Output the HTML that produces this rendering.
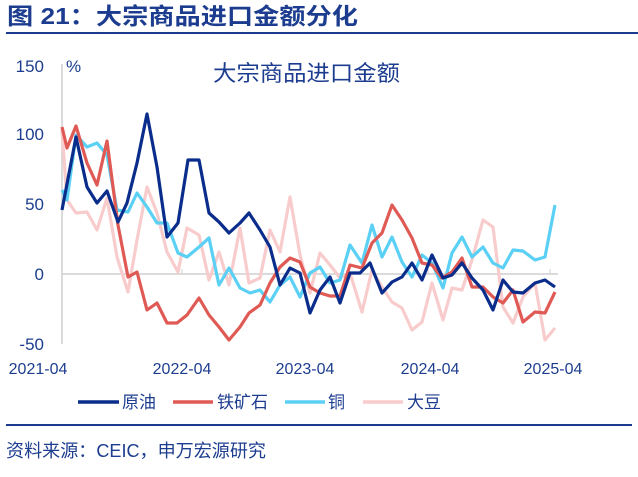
<!DOCTYPE html>
<html><head><meta charset="utf-8"><style>
body{margin:0;background:#fff;width:638px;height:472px;overflow:hidden;font-family:"Liberation Sans","Noto Sans CJK SC",sans-serif}
</style></head><body>
<svg width="638" height="472" xmlns="http://www.w3.org/2000/svg" font-family="Liberation Sans, Noto Sans CJK SC, sans-serif">
<text x="7" y="24" font-size="23" font-weight="bold" fill="#1c3d8f" textLength="351" lengthAdjust="spacingAndGlyphs">图 21：大宗商品进口金额分化</text>
<line x1="6" y1="33" x2="638" y2="33" stroke="#1c3d8f" stroke-width="2"/>
<line x1="62" y1="64" x2="62" y2="344" stroke="#cfcfcf" stroke-width="1.5"/>
<line x1="62" y1="274" x2="558" y2="274" stroke="#cfcfcf" stroke-width="1.5"/>
<line x1="182" y1="274" x2="182" y2="269" stroke="#cfcfcf"/>
<line x1="305" y1="274" x2="305" y2="269" stroke="#cfcfcf"/>
<line x1="428" y1="274" x2="428" y2="269" stroke="#cfcfcf"/>
<line x1="550" y1="274" x2="550" y2="269" stroke="#cfcfcf"/>
<g font-size="17" fill="#1c3d8f" text-anchor="end">
<text x="44" y="72">150</text><text x="44" y="140">100</text><text x="44" y="210">50</text><text x="44" y="280">0</text><text x="44" y="350">-50</text>
</g>
<text x="66" y="72" font-size="17" fill="#1c3d8f">%</text>
<text x="213" y="81" font-size="22" fill="#1c3d8f" textLength="187" lengthAdjust="spacingAndGlyphs">大宗商品进口金额</text>
<g font-size="16" fill="#1c3d8f" text-anchor="middle">
<text x="38" y="374">2021-04</text><text x="182" y="374">2022-04</text><text x="305" y="374">2023-04</text><text x="430" y="374">2024-04</text><text x="553" y="374">2025-04</text>
</g>
<g fill="none" stroke-width="3.2" stroke-linejoin="round">
<polyline stroke="#f8cccc" points="62,130 67,200 76,213 87,212 97,230 107,198 117,257 128,292 137,240 147,187 157,213 167,252 178,272 187,228 199,235 209,280 219,252 229,285 240,228 249,283 260,278 270,230 280,252 290,197 300,255 310,293 320,253 330,265 340,278 350,273 362,312 372,270 382,287 392,302 402,308 412,330 422,322 432,283 443,320 452,288 462,290 472,260 483,220 493,227 503,307 513,323 523,297 535,283 545,340 555,328"/>
<polyline stroke="#5bd0f5" points="62,190 67,200 76,135 87,147 97,143 107,155 117,210 128,212 137,193 147,207 157,223 167,223 178,253 187,257 199,247 209,238 219,285 229,268 240,288 250,293 260,290 270,302 280,285 290,277 300,297 310,273 320,267 330,283 340,280 350,245 362,263 372,225 382,257 392,237 402,262 412,277 422,255 432,263 443,288 452,253 462,237 472,257 483,247 493,263 503,268 513,250 523,251 535,260 545,257 555,205"/>
<polyline stroke="#e05a55" points="62,127 67,148 76,126 87,163 97,185 107,141 118,225 128,277 137,272 147,310 157,303 167,323 177,323 187,315 199,298 209,315 219,327 229,340 240,327 249,313 260,305 270,283 280,267 290,258 300,262 310,287 320,293 330,296 340,296 350,265 362,268 372,243 382,233 392,205 402,220 412,238 422,263 432,265 442,278 452,272 462,258 472,287 483,287 493,297 503,303 513,290 523,322 535,312 545,313 555,292"/>
<polyline stroke="#0a2d8c" points="62,210 76,137 87,187 97,203 107,191 118,222 127,203 137,163 147,114 157,167 167,237 178,223 188,160 199,160 209,213 219,222 229,233 240,223 249,213 260,230 270,247 280,285 290,268 300,273 310,313 320,290 330,277 340,303 350,273 360,273 370,263 382,293 392,282 402,277 412,263 422,280 432,255 443,278 452,275 462,263 472,278 483,290 493,310 503,280 513,292 523,293 535,283 545,280 555,287"/>
</g>
<g font-size="17" fill="#1c3d8f">
<line x1="78" y1="402" x2="119" y2="402" stroke="#0a2d8c" stroke-width="3.5"/><text x="122" y="408">原油</text>
<line x1="173" y1="402" x2="213" y2="402" stroke="#e05a55" stroke-width="3.5"/><text x="217" y="408">铁矿石</text>
<line x1="285" y1="402" x2="325" y2="402" stroke="#5bd0f5" stroke-width="3.5"/><text x="328" y="408">铜</text>
<line x1="363" y1="402" x2="403" y2="402" stroke="#f8cccc" stroke-width="3.5"/><text x="407" y="408">大豆</text>
</g>
<line x1="6" y1="425" x2="632" y2="425" stroke="#1c3d8f" stroke-width="2"/>
<text x="6" y="457" font-size="18" fill="#1c3d8f" textLength="260" lengthAdjust="spacingAndGlyphs">资料来源：CEIC，申万宏源研究</text>
</svg>
</body></html>
